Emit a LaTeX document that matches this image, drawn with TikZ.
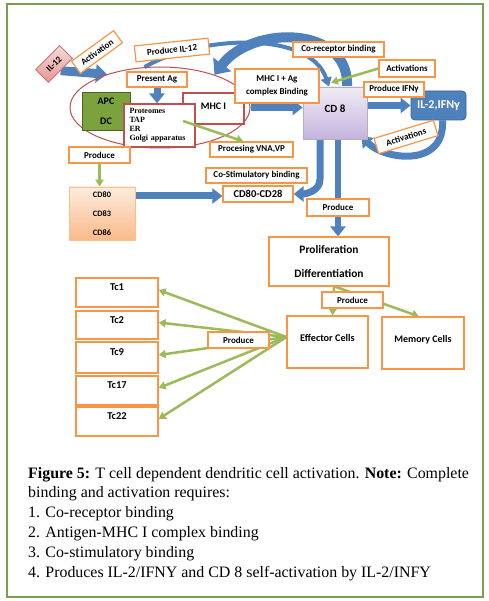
\documentclass[tikz,border=0pt]{standalone}
\usepackage{fontspec}
\setmainfont{Liberation Serif}
\newfontfamily\carl{Carlito}
\usetikzlibrary{arrows.meta,shapes.geometric,calc}
\definecolor{obox}{RGB}{247,150,70}
\definecolor{dred}{RGB}{192,80,77}
\definecolor{oblue}{RGB}{79,129,189}
\definecolor{ogreen}{RGB}{155,187,89}
\definecolor{framec}{RGB}{119,160,80}
\definecolor{apcg}{RGB}{122,163,62}
\definecolor{apcb}{RGB}{79,98,40}
\definecolor{cdtop}{RGB}{240,236,246}
\definecolor{cdbot}{RGB}{196,180,222}
\definecolor{peach1}{RGB}{253,236,222}
\definecolor{peach2}{RGB}{250,186,136}
\definecolor{pink1}{RGB}{244,218,218}
\definecolor{pink2}{RGB}{232,150,150}
\pgfdeclarelayer{bg}
\pgfsetlayers{bg,main}
\tikzset{
  lbl/.style={draw=obox, line width=1.2pt, fill=white, inner sep=0pt,
    font=\carl\bfseries\fontsize{9}{10}\selectfont, minimum height=15pt},
  cellbox/.style={draw=obox, line width=1.2pt, fill=white, inner sep=0pt},
  redbox/.style={draw=dred, line width=1.2pt, fill=white, inner sep=0pt},
  barrow/.style={oblue, line width=7pt, -{Triangle[length=10pt,width=15pt]}},
  garrow/.style={ogreen, line width=2.5pt, -{Triangle[length=7pt,width=8pt]}},
  captext/.style={anchor=base west, inner sep=0pt, font=\fontsize{15.9}{18}\selectfont},
}
\begin{document}
\begin{tikzpicture}[x=1pt,y=-1pt]
\useasboundingbox (0,0) rectangle (488,601);
\draw[framec, line width=1.5pt] (7,4) rectangle (483,597);

% upper part
\node[draw=dred, line width=1pt, ellipse, minimum width=180pt, minimum height=81pt, inner sep=0pt] (ell) at (160,107.5) {};
\node[draw=dred!80, line width=0.8pt, top color=pink1, bottom color=pink2, rotate=45,
  minimum width=34pt, minimum height=18pt, inner sep=0pt, font=\carl\bfseries\fontsize{9}{10}\selectfont] (il12) at (54,64) {IL-12};
\node[lbl, rotate=36, minimum width=52pt] (act0) at (97,52) {Activation};
\node[lbl, rotate=6, minimum width=74pt, minimum height=16pt] (pil12) at (172,50) {Produce IL-12};
\node[lbl, minimum width=60pt] (pag) at (157,79.5) {Present Ag};
\node[draw=apcb, line width=0.8pt, fill=apcg, minimum width=48pt, minimum height=38pt, inner sep=0pt,
  align=center, font=\carl\bfseries\fontsize{10}{20}\selectfont] (apc) at (106,111) {APC\\DC};
\node[redbox, minimum width=61pt, minimum height=31pt, font=\carl\bfseries\fontsize{10}{11}\selectfont, text depth=5pt] (mhc) at (213.5,108.5) {MHC I};
\node[redbox, minimum width=71pt, minimum height=43pt, align=left, text width=60pt,
  font=\bfseries\fontsize{8}{9}\selectfont] (prot) at (159.5,125.5) {Proteomes\\TAP\\ER\\Golgi apparatus};
\node[lbl, minimum width=83pt] (proc) at (251.5,149.5) {Procesing VNA,VP};
\node[lbl, minimum width=61pt, minimum height=16pt] (prod1) at (99.5,155) {Produce};
\node[draw=obox!60, line width=0.6pt, top color=peach1, bottom color=peach2, minimum width=66pt, minimum height=53pt,
  inner sep=0pt, align=center, font=\carl\bfseries\fontsize{8.3}{19}\selectfont] (cd80) at (102,213.5) {CD80\\CD83\\CD86};
\node[lbl, minimum width=101pt] (costim) at (256.5,175.5) {Co-Stimulatory binding};
\node[lbl, minimum width=70pt, minimum height=16pt, font=\carl\bfseries\fontsize{10.5}{11}\selectfont] (cd28) at (258,194) {CD80-CD28};
\node[draw=gray!60, line width=0.6pt, top color=cdtop, bottom color=cdbot, minimum width=64pt, minimum height=52pt,
  inner sep=0pt, text depth=9pt, font=\carl\bfseries\fontsize{11}{12}\selectfont] (cd8) at (335,113) {CD 8};
\node[lbl, minimum width=84pt, minimum height=34pt, align=center, font=\carl\bfseries\fontsize{9}{12.5}\selectfont] (mhcag) at (277,86) {MHC I + Ag\\complex Binding};
\node[lbl, minimum width=91pt] (corec) at (338.5,49.5) {Co-receptor binding};
\node[lbl, minimum width=56pt, minimum height=17pt] (act1) at (407,68.5) {Activations};
\node[draw=oblue!75!black, line width=0.8pt, fill=oblue, rounded corners=4pt, minimum width=55pt, minimum height=29pt,
  inner sep=0pt, text=white, font=\carl\bfseries\fontsize{12}{13}\selectfont] (il2) at (438.5,105.5) {IL-2,IFNγ};
\node[lbl, minimum width=60pt] (pifn) at (394,89.5) {Produce IFNγ};
\node[lbl, rotate=17, minimum width=62pt, minimum height=16pt] (act2) at (406,137) {Activations};
\node[lbl, minimum width=62pt, minimum height=17pt] (prod2) at (338,207.5) {Produce};

% lower part
\node[cellbox, minimum width=120pt, minimum height=49pt, align=center, font=\carl\bfseries\fontsize{11.4}{24}\selectfont] (prolif) at (329,261.5) {Proliferation\\Differentiation};
\node[lbl, minimum width=61pt, minimum height=16pt] (prod3) at (352.5,300) {Produce};
\node[cellbox, minimum width=81pt, minimum height=52pt, text depth=8pt, font=\carl\bfseries\fontsize{10.2}{11}\selectfont] (eff) at (327.5,342) {Effector Cells};
\node[cellbox, minimum width=82pt, minimum height=52pt, text depth=8pt, font=\carl\bfseries\fontsize{10}{11}\selectfont] (mem) at (423,343) {Memory Cells};
\node[lbl, minimum width=61pt, minimum height=16pt] (prod4) at (238.5,340) {Produce};
\tikzset{tcbox/.style={cellbox, minimum width=82pt, text depth=10pt, font=\carl\bfseries\fontsize{10.5}{11}\selectfont}}
\node[tcbox, minimum height=29pt] (tc1) at (117,292.5) {Tc1};
\node[tcbox, minimum height=28pt] (tc2) at (117,325) {Tc2};
\node[tcbox, minimum height=31pt] (tc9) at (117,357.5) {Tc9};
\node[tcbox, minimum height=29pt] (tc17) at (117,390.5) {Tc17};
\node[tcbox, minimum height=29pt] (tc22) at (117,421.5) {Tc22};

% connectors
\begin{pgfonlayer}{bg}
\draw[oblue, line width=9pt, -{Triangle[length=11pt,width=18pt]}] (il12.south) -- (ell.148);
\draw[barrow] (pag.south) -- (pag.south |- prot.north);
\draw[barrow] (ell.east) -- (ell.east -| cd8.west);
\draw[barrow] (il2.west -| cd8.east) -- (il2.west);
\coordinate (cd80t) at (117,196);
\draw[barrow] (cd80t) -- (cd80t -| cd28.west);
\draw[barrow, line width=7pt] ([xshift=-15pt]cd8.south) -- ++(0,40) to[out=-90,in=0] (cd28.east);
\draw[barrow, line width=6pt] ([xshift=3pt]cd8.south) -- ([xshift=3pt]cd8.south |- prolif.north);
\draw[oblue, line width=4pt, -{Triangle[length=9pt,width=11pt]}] (ell.111) .. controls (200,35) and (310,30) .. ([xshift=-6pt]cd8.north);
\draw[oblue, line width=10pt, -{Triangle[length=13pt,width=22pt]}] ([xshift=12pt]cd8.north) .. controls (350,25) and (252,25) .. (ell.31);
\draw[oblue, line width=7pt, -{Triangle[length=10pt,width=15pt]}] ([xshift=4pt]il2.south) .. controls (445,168) and (385,160) .. ([xshift=-6pt,yshift=3pt]cd8.south east);
\draw[garrow] (prod1.south) -- (prod1.south |- cd80.north);
\draw[garrow] ([xshift=5pt]prolif.south) -- ([xshift=5pt]eff.north);
\draw[garrow] ([xshift=6pt]prolif.south) -- ([xshift=-4pt]mem.north);
\foreach \t in {tc1,tc2,tc9,tc17,tc22}{
  \draw[garrow] ([yshift=5pt]eff.west) -- ([yshift=2.5pt]\t.east);
}
\end{pgfonlayer}
\coordinate (pg) at (183,121);
\draw[garrow] (pg) -- ([xshift=-8pt]proc.north);
\draw[garrow] (act1.west) -- ([xshift=-4pt,yshift=4pt]cd8.north);

% caption
\node[captext] (cap1) at (28,478) {\textbf{Figure 5:} T cell dependent dendritic cell activation. \textbf{Note:} Complete};
\node[captext] (cap2) at (28,497.8) {binding and activation requires:};
\node[captext] (cap3) at (28,517.6) {1. Co-receptor binding};
\node[captext] (cap4) at (28,537.4) {2. Antigen-MHC I complex binding};
\node[captext] (cap5) at (28,557.2) {3. Co-stimulatory binding};
\node[captext] (cap6) at (28,577) {4. Produces IL-2/IFNY and CD 8 self-activation by IL-2/INFY};
\end{tikzpicture}
\end{document}
